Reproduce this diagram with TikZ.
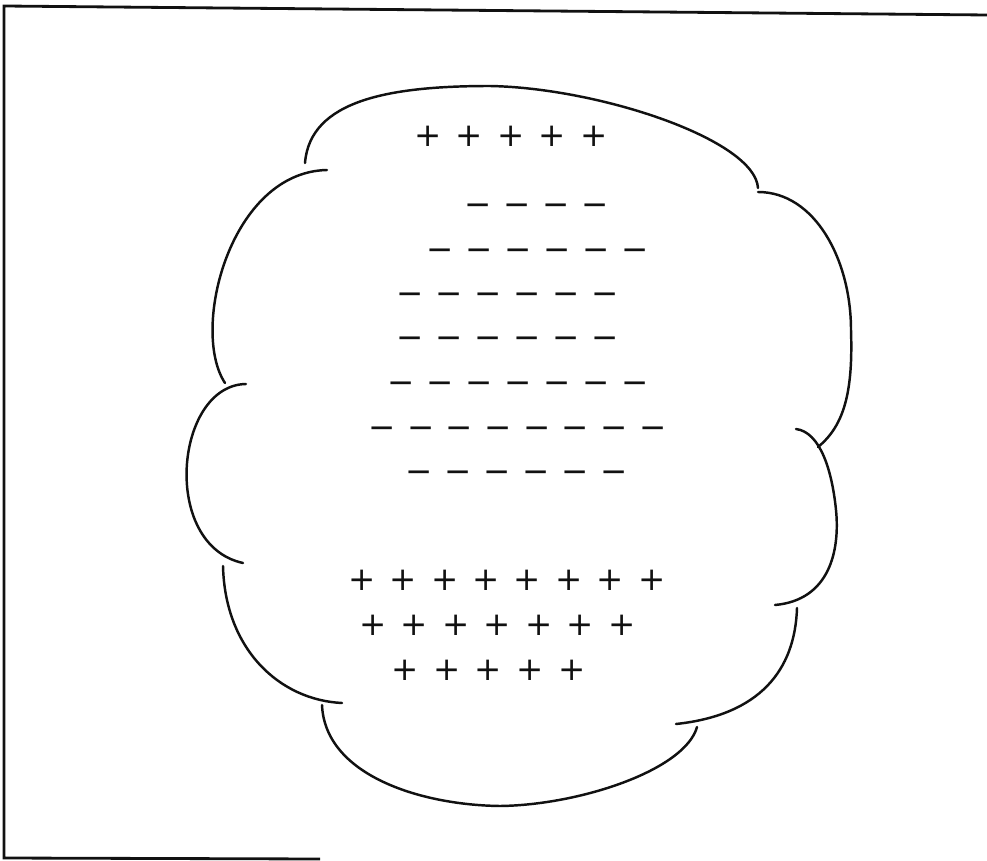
\documentclass[tikz,border=0pt]{standalone}
\usepackage{fontspec}
\newfontfamily\signfont{DejaVu Sans}
\usetikzlibrary{positioning,calc}
\definecolor{ink}{HTML}{111111}
\tikzset{cloud/.style={draw=ink,line width=1.4pt,line cap=round},frame/.style={draw=ink,line width=1.6pt},charge/.style={inner sep=0pt,text height=11.25pt,text depth=0pt,text=ink,font=\signfont\fontsize{18.5}{18.5}\selectfont}}

\begin{document}
\begin{tikzpicture}[x=.02cm,y=-.02cm]
\useasboundingbox (0,0) rectangle (987,861);
% Open frame round the sketch.
\draw[frame] (987,15)--(4,6)--(4,858)--(320,859);
% Cloud outline, drawn as separate bulges.
\draw[cloud] (305,163) .. controls (310,100) and (390,86) .. (490,86) .. controls (600,88) and (755,140) .. (758,188);
\draw[cloud] (327,170) .. controls (230,172) and (190,330) .. (225,383);
\draw[cloud] (246,384) .. controls (175,385) and (160,545) .. (243,563);
\draw[cloud] (223,566) .. controls (225,650) and (280,700) .. (342,703);
\draw[cloud] (322,705) .. controls (325,775) and (420,805) .. (500,806) .. controls (580,805) and (685,770) .. (697,727);
\draw[cloud] (676,724) .. controls (760,715) and (795,670) .. (797,608);
\draw[cloud] (775,605) .. controls (830,600) and (840,550) .. (836,510) .. controls (832,470) and (820,432) .. (796,429);
\draw[cloud] (758,192) .. controls (815,192) and (851,260) .. (851,330) .. controls (853,390) and (845,425) .. (818,447);
% Rows of positive charges.
\foreach \row/\y/\x/\n/\dx in {pa/137/428/5/41.5,pb/581/362/8/41.4,pc/626/373/7/41.5,pd/671/405/5/41.7}{
  \foreach \i in {1,...,\n}{
    \node[charge] (\row-\i) at ({\x+(\i-1)*\dx},\y) {+};
  }
}
% Rows of negative charges.
\foreach \row/\y/\x/\n/\dx in {ma/206/478.5/4/39,mb/251/440/6/39,mc/295/410/6/39,md/339/410/6/39,me/384/401/7/39,mf/429/382/8/38.7,mg/473/419/6/39}{
  \foreach \i in {1,...,\n}{
    \node[charge] (\row-\i) at ({\x+(\i-1)*\dx},\y) {−};
  }
}
\end{tikzpicture}
\end{document}
